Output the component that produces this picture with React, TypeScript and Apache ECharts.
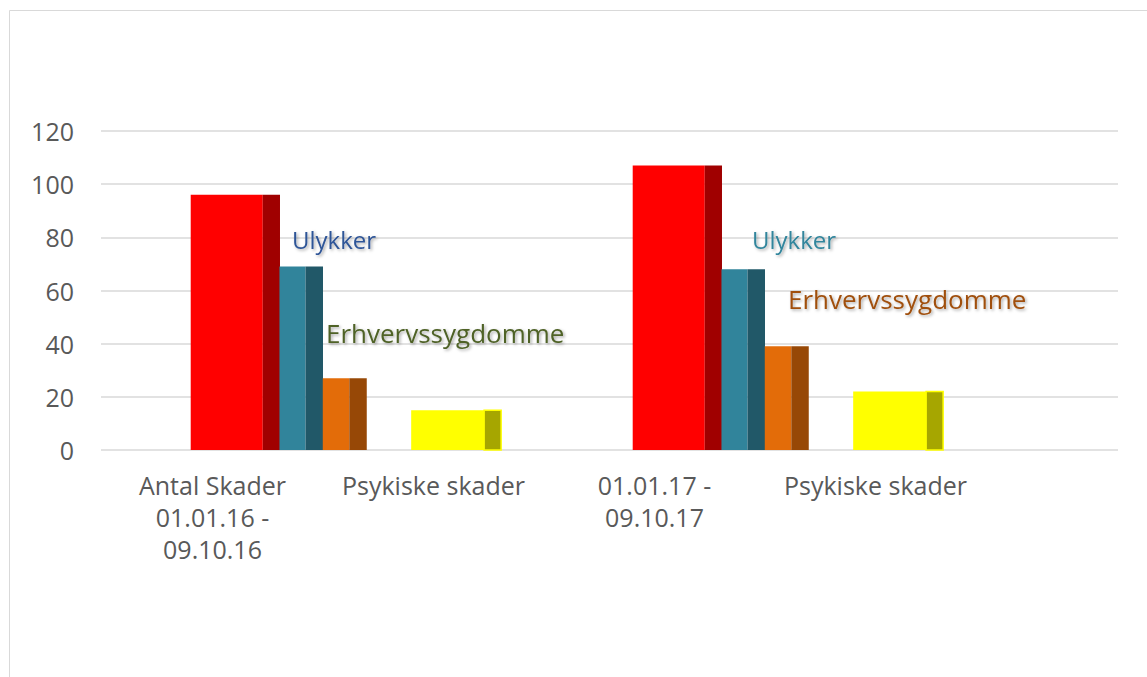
import React, { useEffect, useRef } from "react";
import * as echarts from "echarts";

const categories = [
  "Antal Skader\n01.01.16 -\n09.10.16",
  "Psykiske skader",
  "01.01.17 -\n09.10.17",
  "Psykiske skader",
];
const antalSkader = [96, null, 107, null];
const ulykker = [69, null, 68, null];
const erhvervssygdomme = [27, null, 39, null];
const psykiskeSkader = [null, 15, null, 22];
const yTicks = [0, 20, 40, 60, 80, 100, 120];

const FONT = '"Open Sans", "Noto Sans", sans-serif';

type BarStyle = { offset: number; front: number; side: number; frontColor: string; sideColor: string; stroke?: string };

function makeSeries(name: string, values: (number | null)[], st: BarStyle) {
  const data = values
    .map((v, i) => (v == null ? null : [i, v]))
    .filter((d) => d != null);
  return {
    type: "custom",
    name,
    xAxisIndex: 1,
    yAxisIndex: 1,
    data,
    renderItem: (params: any, api: any) => {
      const idx = api.value(0);
      const v = api.value(1);
      const top = api.coord([idx, v]);
      const base = api.coord([idx, 0]);
      const band = api.size([1, 0])[0];
      const x0 = top[0] + band * st.offset;
      const fw = band * st.front;
      const sw = band * st.side;
      const h = base[1] - top[1];
      const children: any[] = [
        { type: "rect", shape: { x: x0, y: top[1], width: fw, height: h }, style: { fill: st.frontColor } },
        {
          type: "rect",
          shape: { x: x0 + fw, y: top[1], width: sw, height: h },
          style: st.stroke
            ? { fill: st.sideColor, stroke: st.stroke, lineWidth: 1.5 }
            : { fill: st.sideColor },
        },
      ];
      return { type: "group", children };
    },
  };
}

export default function App() {
  const ref = useRef<HTMLDivElement>(null);
  useEffect(() => {
    if (!ref.current) return;
    const chart = echarts.init(ref.current, undefined, { renderer: "svg" });
    const shadow = {
      textShadowColor: "rgba(0,0,0,0.35)",
      textShadowBlur: 3,
      textShadowOffsetX: 1.5,
      textShadowOffsetY: 1.5,
    };
    const annot = (text: string, x: number, y: number, color: string, size: number) => ({
      type: "text",
      x,
      y,
      z: 100,
      style: {
        text,
        fill: color,
        fontSize: size,
        fontFamily: FONT,
        verticalAlign: "middle",
        textVerticalAlign: "middle",
        align: "left",
        ...shadow,
      },
    });
    chart.setOption({
      animation: false,
      backgroundColor: "#ffffff",
      graphic: [
        {
          type: "rect",
          shape: { x: 9.5, y: 10.5, width: 1200, height: 800 },
          style: { fill: "none", stroke: "#D9D9D9", lineWidth: 1 },
          z: 0,
        },
        annot("Ulykker", 292, 239, "#2F5597", 24),
        annot("Erhvervssygdomme", 326, 332.5, "#4F6228", 26),
        annot("Ulykker", 752, 239, "#31859C", 24),
        annot("Erhvervssygdomme", 788, 299, "#A0500F", 26),
      ],
      grid: [
        { left: 101, right: 29, top: 131, bottom: 227 },
        { left: 102, width: 884, top: 131, bottom: 227 },
      ],
      xAxis: [
        { type: "value", gridIndex: 0, show: false, min: 0, max: 1 },
        {
          type: "category",
          gridIndex: 1,
          data: categories,
          axisLine: { show: false },
          axisTick: { show: false },
          axisLabel: {
            color: "#595959",
            fontSize: 25,
            fontFamily: FONT,
            lineHeight: 32,
            margin: 19,
            interval: 0,
          },
        },
      ],
      yAxis: [
        {
          type: "value",
          gridIndex: 0,
          min: yTicks[0],
          max: yTicks[yTicks.length - 1],
          interval: 20,
          axisLine: { show: false },
          axisTick: { show: false },
          axisLabel: { color: "#595959", fontSize: 25, fontFamily: FONT, margin: 27, padding: [3, 0, 0, 0] },
          splitLine: { lineStyle: { color: "#D9D9D9", width: 1.5 } },
        },
        {
          type: "value",
          gridIndex: 1,
          min: yTicks[0],
          max: yTicks[yTicks.length - 1],
          interval: 20,
          show: false,
          splitLine: { show: false },
        },
      ],
      series: [
        makeSeries("Antal Skader", antalSkader, { offset: -0.0986, front: 0.326, side: 0.078, frontColor: "#FF0000", sideColor: "#A00000" }),
        makeSeries("Ulykker", ulykker, { offset: 0.303, front: 0.118, side: 0.079, frontColor: "#31849B", sideColor: "#215868" }),
        makeSeries("Erhvervssygdomme", erhvervssygdomme, { offset: 0.499, front: 0.12, side: 0.079, frontColor: "#E36C09", sideColor: "#974806" }),
        makeSeries("Psykiske skader", psykiskeSkader, { offset: -0.101, front: 0.33, side: 0.077, frontColor: "#FFFF00", sideColor: "#A6A600", stroke: "#FFFF00" }),
      ],
    });
    return () => chart.dispose();
  }, []);
  return (
    <div
      ref={ref}
      style={{ position: "fixed", left: 0, top: 0, width: 1147, height: 677, background: "#fff" }}
    />
  );
}
